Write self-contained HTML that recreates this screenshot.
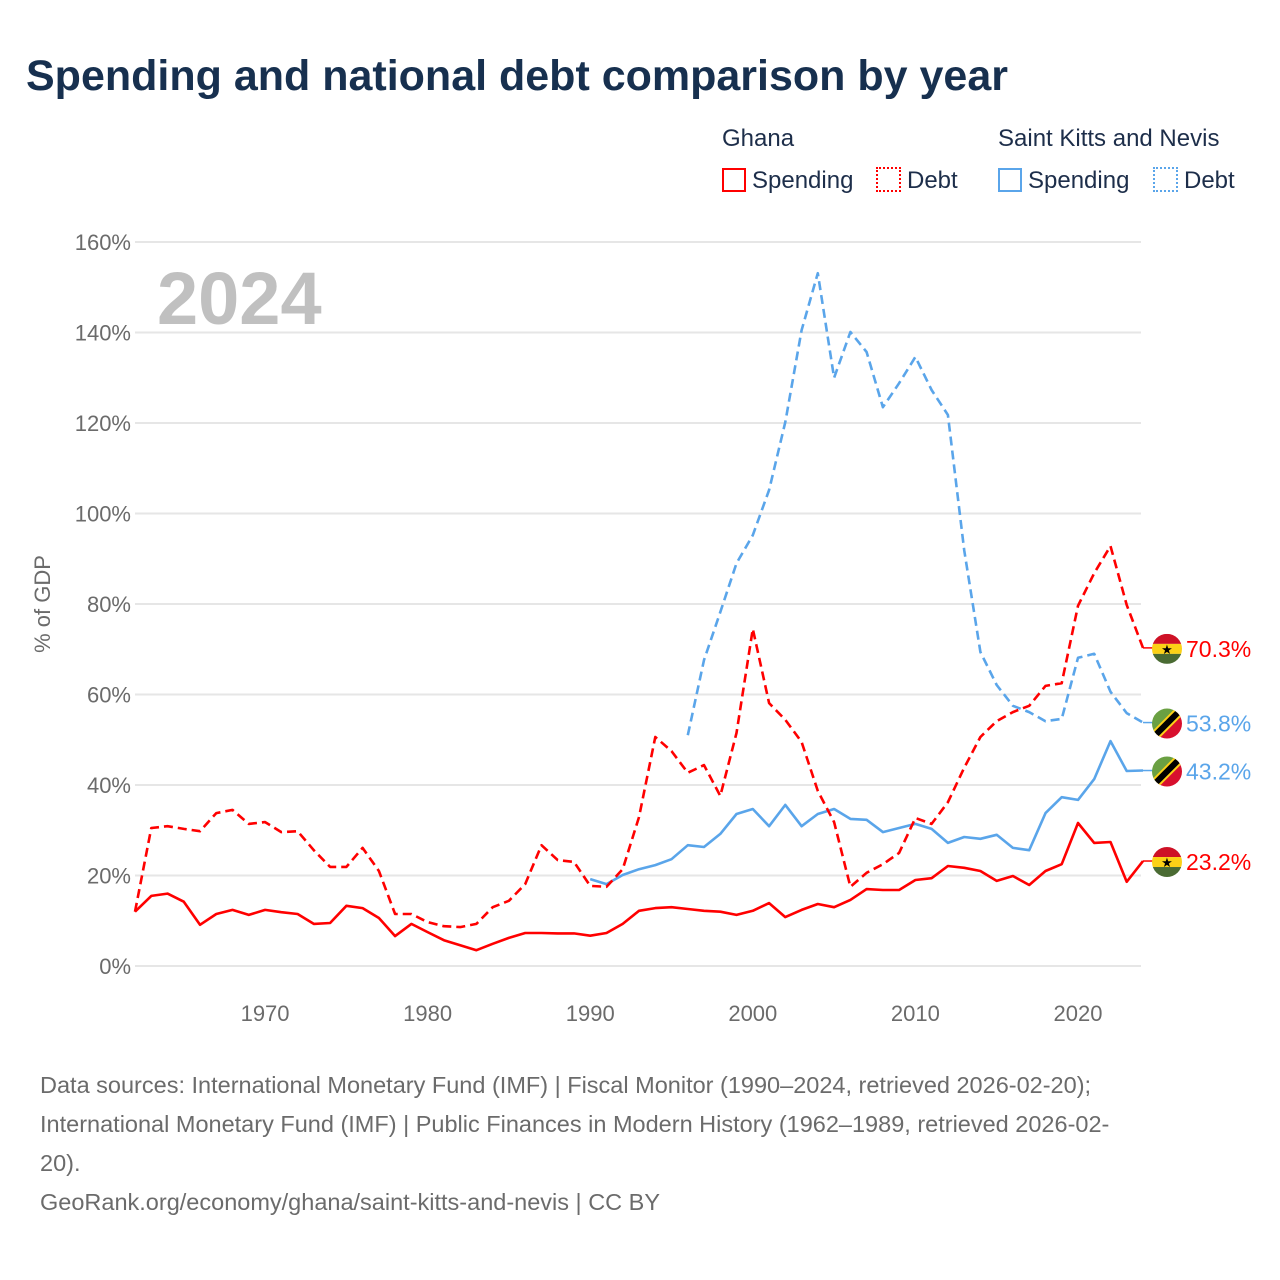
<!DOCTYPE html>
<html><head><meta charset="utf-8">
<style>
body{margin:0;width:1280px;height:1280px;background:#fff;font-family:"Liberation Sans",sans-serif;overflow:hidden}
.t{position:absolute;white-space:nowrap}
</style></head>
<body>
<div class="t" style="left:26px;top:52px;font-size:43px;font-weight:bold;color:#17304f;letter-spacing:0px">Spending and national debt comparison by year</div>
<div class="t" style="left:722px;top:125px;font-size:24px;color:#1d2e4a">Ghana</div>
<div class="t" style="left:998px;top:125px;font-size:24px;color:#1d2e4a">Saint Kitts and Nevis</div>
<div class="t" style="left:722px;top:167px;font-size:24px;color:#1d2e4a"><span style="display:inline-block;width:20px;height:20px;border:2px solid #f00;vertical-align:-4px;margin-right:6px"></span>Spending</div>
<div class="t" style="left:876px;top:167px;font-size:24px;color:#1d2e4a"><span style="display:inline-block;width:21px;height:21px;border:2px dotted #f00;vertical-align:-4px;margin-right:6px"></span>Debt</div>
<div class="t" style="left:998px;top:167px;font-size:24px;color:#1d2e4a"><span style="display:inline-block;width:20px;height:20px;border:2px solid #5aa5ea;vertical-align:-4px;margin-right:6px"></span>Spending</div>
<div class="t" style="left:1153px;top:167px;font-size:24px;color:#1d2e4a"><span style="display:inline-block;width:21px;height:21px;border:2px dotted #5aa5ea;vertical-align:-4px;margin-right:6px"></span>Debt</div>
<svg id="chart" width="1280" height="1280" style="position:absolute;left:0;top:0"></svg>
<div class="t" style="left:40px;top:1066px;font-size:23.5px;line-height:39px;color:#6b6b6b">Data sources: International Monetary Fund (IMF) | Fiscal Monitor (1990–2024, retrieved 2026-02-20);<br>International Monetary Fund (IMF) | Public Finances in Modern History (1962–1989, retrieved 2026-02-<br>20).<br>GeoRank.org/economy/ghana/saint-kitts-and-nevis | CC BY</div>
<script>
const yTicks=[0,20,40,60,80,100,120,140,160];
const xTicks=[1970,1980,1990,2000,2010,2020];
const ghanaStart=1962;
const ghanaSpending=[12,15.5,16,14.2,9.1,11.5,12.4,11.3,12.4,11.9,11.5,9.3,9.5,13.3,12.8,10.6,6.6,9.3,7.5,5.7,4.6,3.5,4.9,6.2,7.3,7.3,7.2,7.2,6.7,7.3,9.3,12.2,12.8,13,12.6,12.2,12,11.3,12.2,13.9,10.8,12.4,13.7,13,14.6,17,16.8,16.8,19,19.4,22.1,21.7,21,18.8,19.9,17.9,21,22.5,31.6,27.2,27.4,18.6,23.2];
const ghanaDebt=[12,30.5,30.9,30.3,29.8,33.8,34.5,31.4,31.8,29.6,29.8,25.6,21.9,21.9,26.1,21,11.5,11.5,9.7,8.8,8.6,9.3,13,14.4,18.1,26.7,23.4,23,17.7,17.5,21.4,32.9,50.6,47.5,42.7,44.4,37.6,51.5,74.5,58.1,54.4,49.5,38.7,31.8,17.5,20.6,22.5,25,32.7,31.4,36.2,43.8,50.6,54.1,56.1,57.5,61.9,62.5,79.6,86.8,92.8,79.8,70.3];
const sknSpendStart=1990;
const sknSpending=[19.2,18.1,20.1,21.4,22.3,23.6,26.7,26.3,29.2,33.6,34.7,30.9,35.6,30.9,33.6,34.7,32.5,32.3,29.6,30.5,31.4,30.3,27.2,28.5,28.1,29,26.1,25.6,33.8,37.3,36.7,41.3,49.7,43.1,43.2];
const sknDebtStart=1996;
const sknDebt=[51,67.6,78.2,89,95.2,105.2,120.2,140.5,153.1,130,140.1,135.7,123.5,128.8,134.6,127.3,121.8,91.9,69.4,62.1,57.5,56.1,54.1,54.6,68.1,69,60.6,55.9,53.8];
const endLabels=["70.3%","53.8%","43.2%","23.2%"];

const svg=document.getElementById('chart');const NS='http://www.w3.org/2000/svg';
const X=yr=>135+(yr-1962)*(1143-135)/62;
const Y=v=>966-v*(966-242)/160;
function mk(t,a){const e=document.createElementNS(NS,t);for(const k in a)e.setAttribute(k,a[k]);svg.appendChild(e);return e;}
yTicks.forEach(v=>{
 const g=mk('line',{x1:135,x2:1141,y1:Y(v),y2:Y(v),stroke:'#e6e6e6','stroke-width':2});
 
 
 const t=mk('text',{x:131,y:Y(v)+8,'text-anchor':'end','font-size':22,fill:'#6b6b6b','font-family':'Liberation Sans'});
 t.textContent=v+'%';
 
 
});
xTicks.forEach(v=>{
 const t=mk('text',{x:X(v),y:1021,'text-anchor':'middle','font-size':22,fill:'#6b6b6b','font-family':'Liberation Sans'});
 t.textContent=v;
 
 
});
const yt=mk('text',{x:0,y:0,transform:'translate(50,604) rotate(-90)','text-anchor':'middle','font-size':22,fill:'#6b6b6b','font-family':'Liberation Sans'});
yt.textContent='% of GDP';


const yr=mk('text',{x:157,y:324,'font-size':74,'font-weight':'bold',fill:'#c0c0c0','font-family':'Liberation Sans'});
yr.textContent='2024';


function line(arr,start,color,dash,name){
 const p=arr.map((v,i)=>(i?'L':'M')+X(start+i).toFixed(1)+','+Y(v).toFixed(1)).join('');
 const e=mk('path',{d:p,fill:'none',stroke:color,'stroke-width':2.6,'stroke-linejoin':'round'});
 if(dash)e.setAttribute('stroke-dasharray','9,5');
 
 
}
line(sknDebt,sknDebtStart,'#5aa5ea',true,'skn-debt-line');
line(sknSpending,sknSpendStart,'#5aa5ea',false,'skn-spending-line');
line(ghanaDebt,ghanaStart,'#f00',true,'ghana-debt-line');
line(ghanaSpending,ghanaStart,'#f00',false,'ghana-spending-line');
function flag(cx,cy,ghana){
 const id='c'+Math.round(cy);
 const d=mk('clipPath',{id:id});svg.removeChild(d);
 const defs=mk('defs',{});defs.appendChild(d);
 const c=document.createElementNS(NS,'circle');c.setAttribute('cx',cx);c.setAttribute('cy',cy);c.setAttribute('r',15);d.appendChild(c);
 const g=mk('g',{'clip-path':'url(#'+id+')'});
 
 
 const add=(t,a)=>{const e=document.createElementNS(NS,t);for(const k in a)e.setAttribute(k,a[k]);g.appendChild(e);};
 if(ghana){
  add('rect',{x:cx-15,y:cy-15,width:30,height:10,fill:'#ce1126'});
  add('rect',{x:cx-15,y:cy-5,width:30,height:10,fill:'#fcd116'});
  add('rect',{x:cx-15,y:cy+5,width:30,height:10,fill:'#4a6b33'});
  add('text',{x:cx,y:cy+5,'text-anchor':'middle','font-size':13,fill:'#000'}); g.lastChild.textContent='★';
 } else {
  add('polygon',{points:`${cx-15},${cy-15} ${cx+15},${cy-15} ${cx-15},${cy+15}`,fill:'#6aa042'});
  add('polygon',{points:`${cx+15},${cy-15} ${cx+15},${cy+15} ${cx-15},${cy+15}`,fill:'#d8102e'});
  add('line',{x1:cx-15,y1:cy+15,x2:cx+15,y2:cy-15,stroke:'#fcd116','stroke-width':10});
  add('line',{x1:cx-15,y1:cy+15,x2:cx+15,y2:cy-15,stroke:'#000','stroke-width':6});
 }
}
const ends=[[ghanaDebt,'#f00',true],[sknDebt,'#5aa5ea',false],[sknSpending,'#5aa5ea',false],[ghanaSpending,'#f00',true]];
ends.forEach((e,i)=>{
 const v=e[0][e[0].length-1];const cy=Y(v);
 const l=mk('line',{x1:1143,x2:1155,y1:cy,y2:cy,stroke:e[1],'stroke-width':1.5});
 
 
 flag(1167,cy+1,e[2]);
 const t=mk('text',{x:1186,y:cy+9,'font-size':23,fill:e[1],'font-family':'Liberation Sans'});
 t.textContent=endLabels[i];
 
 
});
</script>
</body></html>
